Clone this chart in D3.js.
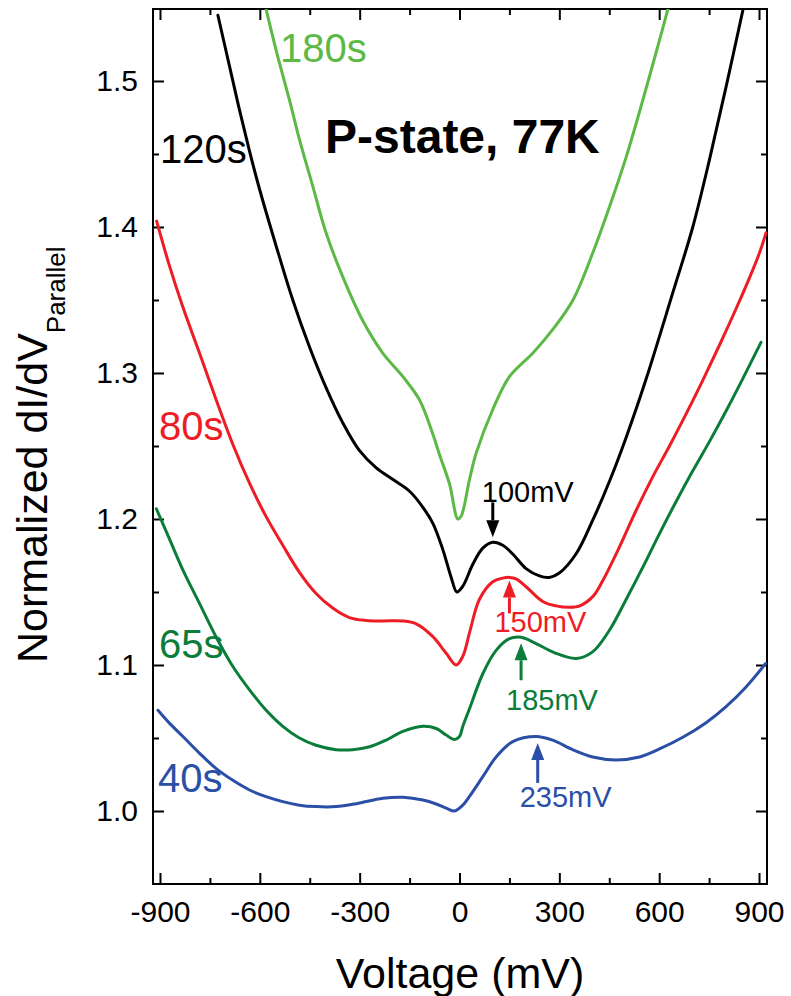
<!DOCTYPE html>
<html>
<head>
<meta charset="utf-8">
<script src="https://cdn.jsdelivr.net/npm/d3@7"></script>
<style>
  body { margin: 0; background: #fff; }
  svg text { font-family: "Liberation Sans", Arial, Helvetica, sans-serif; }
</style>
</head>
<body>
<div class="spectra"></div>
<script>
// normalized dI/dV vs bias, [voltage (mV), value]
var curve180s = [[-581,1.549],[-551,1.521],[-511,1.487],[-481,1.460],[-441,1.428],[-401,1.396],
  [-351,1.366],[-291,1.336],[-230,1.3135],[-170,1.2975],[-120,1.2815],[-80,1.258],[-60,1.244],
  [-30,1.224],[-5,1.200],[5,1.202],[30,1.227],[50,1.245],[100,1.275],[150,1.2975],[220,1.3135],
  [281,1.330],[341,1.350],[400,1.382],[451,1.414],[501,1.448],[551,1.487],[601,1.528],[626,1.549]];

var curve120s = [[-726,1.545],[-691,1.510],[-661,1.480],[-631,1.452],[-601,1.426],[-551,1.387],
  [-501,1.350],[-451,1.318],[-401,1.290],[-351,1.266],[-301,1.247],[-250,1.235],[-200,1.227],
  [-150,1.219],[-110,1.208],[-80,1.197],[-50,1.179],[-25,1.160],[-8,1.150],[10,1.154],[40,1.169],
  [70,1.180],[100,1.184],[130,1.182],[160,1.176],[200,1.166],[240,1.161],[270,1.160],[300,1.163],
  [350,1.176],[400,1.199],[451,1.226],[501,1.256],[561,1.296],[641,1.355],[701,1.400],[751,1.446],
  [801,1.496],[853,1.550]];

var curve80s = [[-910,1.404],[-871,1.373],[-831,1.345],[-781,1.3135],[-731,1.2815],[-681,1.251],
  [-631,1.2245],[-581,1.2016],[-531,1.182],[-481,1.1635],[-431,1.149],[-381,1.139],[-331,1.1325],
  [-280,1.1305],[-230,1.1302],[-170,1.1302],[-130,1.1282],[-80,1.1194],[-40,1.108],[-10,1.100],
  [10,1.106],[30,1.122],[60,1.145],[100,1.157],[130,1.1595],[150,1.160],[170,1.159],[200,1.1536],
  [250,1.1435],[290,1.1405],[331,1.1395],[361,1.1405],[401,1.147],[431,1.158],[481,1.181],
  [531,1.206],[581,1.229],[631,1.250],[681,1.272],[731,1.295],[781,1.319],[831,1.344],
  [871,1.365],[901,1.382],[921,1.396]];

var curve65s = [[-911,1.207],[-871,1.186],[-831,1.165],[-781,1.142],[-731,1.119],[-681,1.099],
  [-631,1.083],[-581,1.069],[-531,1.058],[-481,1.050],[-431,1.045],[-371,1.042],[-321,1.042],
  [-270,1.044],[-220,1.0486],[-170,1.0545],[-110,1.058],[-70,1.0565],[-40,1.052],[-15,1.049],
  [0,1.051],[10,1.058],[30,1.070],[70,1.094],[110,1.110],[150,1.118],[185,1.119],[230,1.1147],
  [290,1.108],[351,1.1045],[400,1.109],[451,1.124],[501,1.145],[551,1.167],[601,1.190],[651,1.212],
  [701,1.233],[751,1.253],[801,1.274],[851,1.296],[906,1.321]];

var curve40s = [[-906,1.069],[-871,1.060],[-831,1.051],[-781,1.0395],[-731,1.029],[-681,1.021],
  [-631,1.0144],[-581,1.0098],[-531,1.0064],[-481,1.004],[-431,1.003],[-371,1.003],[-310,1.005],
  [-230,1.0087],[-170,1.0094],[-110,1.0075],[-70,1.0048],[-40,1.002],[-15,1.000],[10,1.004],
  [30,1.010],[70,1.0235],[110,1.037],[160,1.0475],[230,1.051],[280,1.0485],[340,1.042],[400,1.037],
  [471,1.035],[541,1.037],[601,1.0425],[671,1.0505],[741,1.0605],[801,1.0715],[861,1.085],[920,1.101]];

var seriesNames = ['180s', '120s', '80s', '65s', '40s'];
var seriesColors = ['#5cb946', '#000000', '#ee1d25', '#0b7d3a', '#2b4fa6'];
var seriesData = [curve180s, curve120s, curve80s, curve65s, curve40s];

// peak positions marked with arrows
var peakSeries = ['120s', '80s', '65s', '40s'];
var peakVoltages = [100, 150, 185, 235];

var xTicks = [-900, -600, -300, 0, 300, 600, 900];
var xMinorTicks = [-750, -450, -150, 150, 450, 750];
var yTicks = [1.0, 1.1, 1.2, 1.3, 1.4, 1.5];
var yMinorTicks = [1.05, 1.15, 1.25, 1.35, 1.45];

(function() {
  var width = 791, height = 996;
  var plot = {left: 153, right: 767, top: 9, bottom: 884};

  var svg = d3.select('.spectra').append('svg')
    .attr('width', width)
    .attr('height', height);

  var x = d3.scaleLinear().domain([-921, 924]).range([plot.left, plot.right]);
  var y = d3.scaleLinear().domain([0.95, 1.5493]).range([plot.bottom, plot.top]);

  svg.append('defs').append('clipPath')
    .attr('id', 'plot-clip')
    .append('rect')
    .attr('x', plot.left).attr('y', plot.top)
    .attr('width', plot.right - plot.left)
    .attr('height', plot.bottom - plot.top);

  // inward ticks on all four sides
  function tickAxis(axis, values, size, transform) {
    var g = svg.append('g')
      .attr('transform', transform)
      .call(axis.tickValues(values).tickSize(-size).tickSizeOuter(0));
    g.select('.domain').remove();
    g.selectAll('.tick line').attr('stroke', '#000').attr('stroke-width', 2);
    return g;
  }

  var xb = tickAxis(d3.axisBottom(x).tickPadding(17).tickFormat(function(d) { return String(d); }),
    xTicks, 11, 'translate(0,' + plot.bottom + ')');
  tickAxis(d3.axisBottom(x).tickFormat(''), xMinorTicks, 6, 'translate(0,' + plot.bottom + ')');
  tickAxis(d3.axisTop(x).tickFormat(''), xTicks, 11, 'translate(0,' + plot.top + ')');
  tickAxis(d3.axisTop(x).tickFormat(''), xMinorTicks, 6, 'translate(0,' + plot.top + ')');

  var yl = tickAxis(d3.axisLeft(y).tickPadding(15).tickFormat(d3.format('.1f')), yTicks, 11,
    'translate(' + plot.left + ',0)');
  tickAxis(d3.axisLeft(y).tickFormat(''), yMinorTicks, 6, 'translate(' + plot.left + ',0)');
  tickAxis(d3.axisRight(y).tickFormat(''), yTicks, 11, 'translate(' + plot.right + ',0)');
  tickAxis(d3.axisRight(y).tickFormat(''), yMinorTicks, 6, 'translate(' + plot.right + ',0)');

  [xb, yl].forEach(function(g) {
    g.selectAll('text')
      .attr('fill', '#000')
      .style('font-size', '30px')
      .style('font-family', '"Liberation Sans", Arial, sans-serif');
  });

  svg.append('rect')
    .attr('x', plot.left).attr('y', plot.top)
    .attr('width', plot.right - plot.left)
    .attr('height', plot.bottom - plot.top)
    .attr('fill', 'none')
    .attr('stroke', '#000')
    .attr('stroke-width', 2);

  var line = d3.line()
    .curve(d3.curveCatmullRom.alpha(0.5))
    .x(function(d) { return x(d[0]); })
    .y(function(d) { return y(d[1]); });

  var curves = svg.append('g').attr('clip-path', 'url(#plot-clip)');
  seriesData.forEach(function(data, i) {
    curves.append('path')
      .datum(data)
      .attr('fill', 'none')
      .attr('stroke', seriesColors[i])
      .attr('stroke-width', 3)
      .attr('stroke-linejoin', 'round')
      .attr('stroke-linecap', 'round')
      .attr('d', line);
  });

  // series names
  var namePos = {'180s': [280, 62], '120s': [160, 163], '80s': [159, 440], '65s': [159, 658], '40s': [158, 792]};
  seriesNames.forEach(function(name, i) {
    svg.append('text')
      .attr('x', namePos[name][0])
      .attr('y', namePos[name][1])
      .attr('fill', seriesColors[i])
      .style('font-size', '40px')
      .text(name);
  });

  svg.append('text')
    .attr('x', 325)
    .attr('y', 153)
    .style('font-size', '48px')
    .style('font-weight', 'bold')
    .text('P-state, 77K');

  // value of a curve at voltage v, linear between samples
  function valueAt(data, v) {
    var i = d3.bisector(function(d) { return d[0]; }).left(data, v);
    var a = data[Math.max(i - 1, 0)], b = data[Math.min(i, data.length - 1)];
    if (a[0] === b[0]) return a[1];
    return a[1] + (b[1] - a[1]) * (v - a[0]) / (b[0] - a[0]);
  }

  // arrow: gap from curve, length, label offset (dx, baseline from tail)
  var arrowLayout = [
    {dir: -1, gap: 5, len: 35, dx: -11, dy: 0},
    {dir: 1, gap: 3, len: 33, dx: -15, dy: 19},
    {dir: 1, gap: 6, len: 37, dx: -15, dy: 30},
    {dir: 1, gap: 6, len: 40, dx: -18, dy: 24}
  ];

  peakSeries.forEach(function(name, i) {
    var k = seriesNames.indexOf(name);
    var mv = peakVoltages[i], lay = arrowLayout[i];
    var ax = x(mv);
    var yc = y(valueAt(seriesData[k], mv));
    var tip = yc + lay.dir * lay.gap;
    var tail = tip + lay.dir * lay.len;
    var headLen = 17, headW = 13;
    var base = tip + lay.dir * headLen;

    svg.append('line')
      .attr('x1', ax).attr('x2', ax)
      .attr('y1', tail).attr('y2', base)
      .attr('stroke', seriesColors[k])
      .attr('stroke-width', 3);
    svg.append('path')
      .attr('d', 'M' + ax + ',' + tip + 'L' + (ax - headW / 2) + ',' + base + 'L' + (ax + headW / 2) + ',' + base + 'Z')
      .attr('fill', seriesColors[k]);

    svg.append('text')
      .attr('x', ax + lay.dx)
      .attr('y', tail + lay.dy)
      .attr('fill', seriesColors[k])
      .style('font-size', '29px')
      .text(mv + 'mV');
  });

  // axis titles
  svg.append('text')
    .attr('x', (plot.left + plot.right) / 2)
    .attr('y', 988)
    .attr('text-anchor', 'middle')
    .style('font-size', '43px')
    .text('Voltage (mV)');

  var yTitle = svg.append('text')
    .attr('transform', 'translate(47,663) rotate(-90)')
    .style('font-size', '43px')
    .text('Normalized dI/dV');
  yTitle.append('tspan')
    .attr('dy', 18)
    .style('font-size', '26px')
    .text('Parallel');
})();
</script>
</body>
</html>
